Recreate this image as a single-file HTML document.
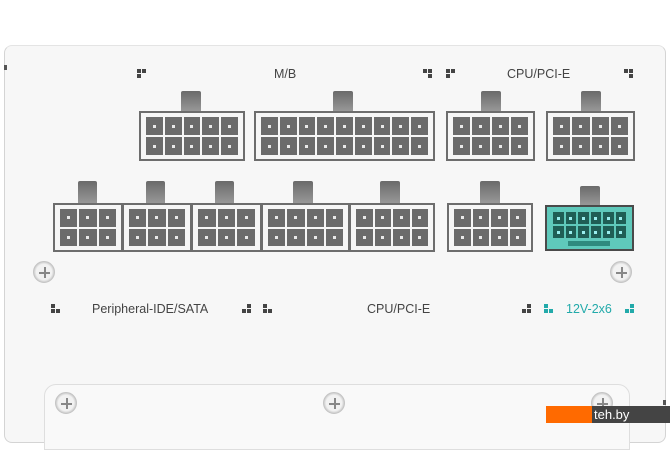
<!DOCTYPE html>
<html><head><meta charset="utf-8"><style>
body{margin:0;width:670px;height:471px;background:#fff;position:relative;overflow:hidden;font-family:"Liberation Sans",sans-serif}
.a{position:absolute}
.panel{left:4px;top:45px;width:660px;height:396px;background:#f7f7f7;border:1px solid #d4d4d4;border-radius:8px;border-top-color:#e4e4e4}
.br{left:44px;top:384px;width:584px;height:64px;background:#f9f9f9;border:1px solid #dedede;border-radius:12px 12px 0 0}
.c{position:absolute;background:#f6f6f6;border:2px solid #6d6d6d;box-sizing:border-box;display:grid;grid-template-rows:1fr 1fr;gap:2px;padding:4px 5px}
.t{position:absolute;background:linear-gradient(#6a6a6a,#9a9a9a);border-radius:2px 2px 0 0}
.p{background:#6b6b6b;position:relative}
.p::after{content:"";position:absolute;left:50%;top:50%;width:3px;height:3px;margin:-1.5px;background:#e8e8e8}
.g .p{background:#1f5e55}.g .p::after{background:#9ee}
.s{position:absolute;width:22px;height:22px;border-radius:50%;background:radial-gradient(#f2f2f2 55%,#cfcfcf 70%,#bbb);box-sizing:border-box;border:1px solid #c4c4c4}
.s::before{content:"";position:absolute;left:10px;top:5px;width:2px;height:11px;background:#888}
.s::after{content:"";position:absolute;left:5px;top:10px;width:11px;height:2px;background:#888}
.l{position:absolute;font-size:12.5px;color:#444}
.m{position:absolute;width:9px;height:9px}
.m i{position:absolute;width:4px;height:4px;background:#444}
</style></head><body>
<div class="a panel"></div>
<div class="a br"></div>
<div class="a" style="left:4px;top:65px;width:3px;height:5px;background:#555"></div>
<div class="a" style="left:663px;top:400px;width:3px;height:5px;background:#555"></div>

<div class="l" style="left:274px;top:67px">M/B</div>
<div class="l" style="left:507px;top:67px">CPU/PCI-E</div>
<div class="l" style="left:92px;top:302px">Peripheral-IDE/SATA</div>
<div class="l" style="left:367px;top:302px">CPU/PCI-E</div>
<div class="l" style="left:566px;top:302px;color:#2aa;">12V-2x6</div>

<div class="m" style="left:137px;top:69px"><i style="left:0;top:0"></i><i style="left:5px;top:0"></i><i style="left:0;top:5px"></i></div>
<div class="m" style="left:423px;top:69px"><i style="left:0;top:0"></i><i style="left:5px;top:0"></i><i style="left:5px;top:5px"></i></div>
<div class="m" style="left:446px;top:69px"><i style="left:0;top:0"></i><i style="left:5px;top:0"></i><i style="left:0;top:5px"></i></div>
<div class="m" style="left:624px;top:69px"><i style="left:0;top:0"></i><i style="left:5px;top:0"></i><i style="left:5px;top:5px"></i></div>
<div class="m" style="left:51px;top:304px"><i style="left:0;top:0"></i><i style="left:0;top:5px"></i><i style="left:5px;top:5px"></i></div>
<div class="m" style="left:242px;top:304px"><i style="left:5px;top:0"></i><i style="left:0;top:5px"></i><i style="left:5px;top:5px"></i></div>
<div class="m" style="left:263px;top:304px"><i style="left:0;top:0"></i><i style="left:0;top:5px"></i><i style="left:5px;top:5px"></i></div>
<div class="m" style="left:522px;top:304px"><i style="left:5px;top:0"></i><i style="left:0;top:5px"></i><i style="left:5px;top:5px"></i></div>
<div class="m" style="left:544px;top:304px"><i style="left:0;top:0;background:#2aa"></i><i style="left:0;top:5px;background:#2aa"></i><i style="left:5px;top:5px;background:#2aa"></i></div>
<div class="m" style="left:625px;top:304px"><i style="left:5px;top:0;background:#2aa"></i><i style="left:0;top:5px;background:#2aa"></i><i style="left:5px;top:5px;background:#2aa"></i></div>

<div class="t" style="left:181px;top:91px;width:20px;height:21px"></div>
<div class="c" style="left:139px;top:111px;width:106px;height:50px;grid-template-columns:repeat(5,1fr)"><i class="p"></i><i class="p"></i><i class="p"></i><i class="p"></i><i class="p"></i><i class="p"></i><i class="p"></i><i class="p"></i><i class="p"></i><i class="p"></i></div>
<div class="t" style="left:333px;top:91px;width:20px;height:21px"></div>
<div class="c" style="left:254px;top:111px;width:181px;height:50px;grid-template-columns:repeat(9,1fr)"><i class="p"></i><i class="p"></i><i class="p"></i><i class="p"></i><i class="p"></i><i class="p"></i><i class="p"></i><i class="p"></i><i class="p"></i><i class="p"></i><i class="p"></i><i class="p"></i><i class="p"></i><i class="p"></i><i class="p"></i><i class="p"></i><i class="p"></i><i class="p"></i></div>
<div class="t" style="left:481px;top:91px;width:20px;height:21px"></div>
<div class="c" style="left:446px;top:111px;width:89px;height:50px;grid-template-columns:repeat(4,1fr)"><i class="p"></i><i class="p"></i><i class="p"></i><i class="p"></i><i class="p"></i><i class="p"></i><i class="p"></i><i class="p"></i></div>
<div class="t" style="left:581px;top:91px;width:20px;height:21px"></div>
<div class="c" style="left:546px;top:111px;width:89px;height:50px;grid-template-columns:repeat(4,1fr)"><i class="p"></i><i class="p"></i><i class="p"></i><i class="p"></i><i class="p"></i><i class="p"></i><i class="p"></i><i class="p"></i></div>

<div class="t" style="left:78px;top:181px;width:19px;height:23px"></div>
<div class="c" style="left:53px;top:203px;width:70px;height:49px;grid-template-columns:repeat(3,1fr)"><i class="p"></i><i class="p"></i><i class="p"></i><i class="p"></i><i class="p"></i><i class="p"></i></div>
<div class="t" style="left:146px;top:181px;width:19px;height:23px"></div>
<div class="c" style="left:122px;top:203px;width:70px;height:49px;grid-template-columns:repeat(3,1fr)"><i class="p"></i><i class="p"></i><i class="p"></i><i class="p"></i><i class="p"></i><i class="p"></i></div>
<div class="t" style="left:215px;top:181px;width:19px;height:23px"></div>
<div class="c" style="left:191px;top:203px;width:71px;height:49px;grid-template-columns:repeat(3,1fr)"><i class="p"></i><i class="p"></i><i class="p"></i><i class="p"></i><i class="p"></i><i class="p"></i></div>
<div class="t" style="left:293px;top:181px;width:20px;height:23px"></div>
<div class="c" style="left:261px;top:203px;width:89px;height:49px;grid-template-columns:repeat(4,1fr)"><i class="p"></i><i class="p"></i><i class="p"></i><i class="p"></i><i class="p"></i><i class="p"></i><i class="p"></i><i class="p"></i></div>
<div class="t" style="left:380px;top:181px;width:20px;height:23px"></div>
<div class="c" style="left:349px;top:203px;width:86px;height:49px;grid-template-columns:repeat(4,1fr)"><i class="p"></i><i class="p"></i><i class="p"></i><i class="p"></i><i class="p"></i><i class="p"></i><i class="p"></i><i class="p"></i></div>
<div class="t" style="left:480px;top:181px;width:20px;height:23px"></div>
<div class="c" style="left:447px;top:203px;width:86px;height:49px;grid-template-columns:repeat(4,1fr)"><i class="p"></i><i class="p"></i><i class="p"></i><i class="p"></i><i class="p"></i><i class="p"></i><i class="p"></i><i class="p"></i></div>

<div class="t" style="left:580px;top:186px;width:20px;height:20px"></div>
<div class="c g" style="left:545px;top:205px;width:89px;height:46px;background:#5fc9bb;border-color:#4a4a4a;grid-template-columns:repeat(6,1fr);grid-template-rows:12px 12px;padding:5px 6px 13px"><i class="p"></i><i class="p"></i><i class="p"></i><i class="p"></i><i class="p"></i><i class="p"></i><i class="p"></i><i class="p"></i><i class="p"></i><i class="p"></i><i class="p"></i><i class="p"></i></div>
<div class="a" style="left:568px;top:241px;width:42px;height:5px;background:#2f8a7e"></div>

<div class="s" style="left:33px;top:261px"></div>
<div class="s" style="left:610px;top:261px"></div>
<div class="s" style="left:55px;top:392px"></div>
<div class="s" style="left:323px;top:392px"></div>
<div class="s" style="left:591px;top:392px"></div>

<div class="a" style="left:546px;top:406px;width:46px;height:17px;background:#ff6a00"></div>
<div class="a" style="left:592px;top:406px;width:78px;height:17px;background:#444;color:#fff;font-size:13px;line-height:17px;padding-left:2px">teh.by</div>
</body></html>
